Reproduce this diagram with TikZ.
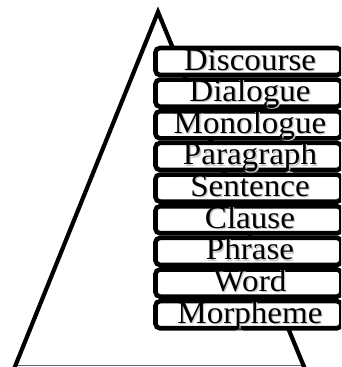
\documentclass[tikz,border=0pt]{standalone}
\usepackage{fontspec}
\usepackage{graphicx}
\setmainfont{Liberation Serif}
\usetikzlibrary{calc}
\newcommand{\widetext}[1]{\scalebox{1.05}[1]{#1}}
\begin{document}
\begin{tikzpicture}[x=1pt,y=-1pt,
  triside/.style={line width=4.2pt, line join=miter},
  baseln/.style={draw=black!60, line width=1pt},
  lvlbox/.style={draw=black, fill=white, line width=4.6pt, rounded corners=4.5pt,
    minimum width=186pt, minimum height=27.05pt, inner sep=0pt, outer sep=0pt},
  lbltext/.style={font=\fontsize{31.5}{31.5}\selectfont, anchor=base, inner sep=0pt},
  shdtext/.style={lbltext, text=black!22}]
\useasboundingbox (0,0) rectangle (341,367);
\clip (0,0) rectangle (341,367);
\coordinate (apex) at (158,12);
\coordinate (bl) at (12,374);
\coordinate (br) at (307,374);
\coordinate (gl) at (16,365.5);
\coordinate (gr) at (303,365.5);
\draw[baseln] (gl) -- (gr);
\draw[triside] (bl) -- (apex) -- (br);
\foreach \t [count=\i] in {Discourse,Dialogue,Monologue,Paragraph,Sentence,Clause,Phrase,Word,Morpheme}{
  \node[lvlbox] (b\i) at (248.5, {61.5+31.65*(\i-1)}) {};
}
\foreach \t [count=\i] in {Discourse,Dialogue,Monologue,Paragraph,Sentence,Clause,Phrase,Word,Morpheme}{
  \node[shdtext] (s\i) at ($(b\i.center)+(2.8,9.7)$) {\widetext{\t}};
  \node[lbltext] (t\i) at ($(b\i.center)+(1.5,8.5)$) {\widetext{\t}};
}
\end{tikzpicture}
\end{document}
